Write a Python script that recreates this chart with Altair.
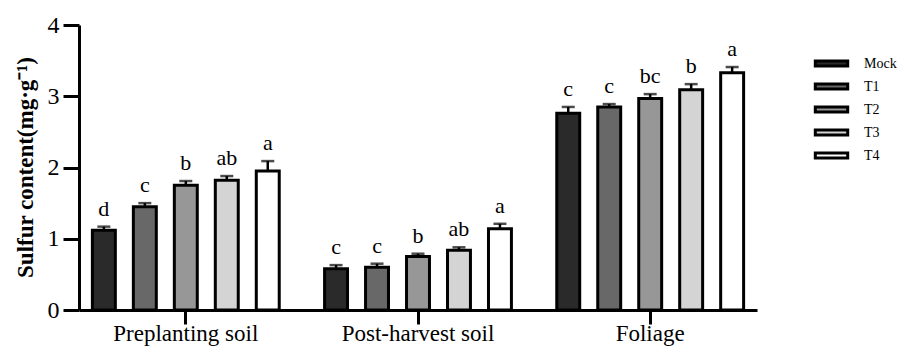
import altair as alt
import pandas as pd

groups = ["Preplanting soil", "Post-harvest soil", "Foliage"]
treatments = ["Mock", "T1", "T2", "T3", "T4"]
colors = ["#2a2a2a", "#686868", "#979797", "#d4d4d4", "#ffffff"]

pre_mean = [1.12, 1.45, 1.75, 1.82, 1.95]
pre_err = [0.05, 0.05, 0.06, 0.06, 0.14]
pre_sig = ["d", "c", "b", "ab", "a"]

post_mean = [0.58, 0.60, 0.75, 0.84, 1.14]
post_err = [0.05, 0.05, 0.04, 0.04, 0.07]
post_sig = ["c", "c", "b", "ab", "a"]

fol_mean = [2.76, 2.85, 2.97, 3.09, 3.33]
fol_err = [0.09, 0.04, 0.06, 0.08, 0.08]
fol_sig = ["c", "c", "bc", "b", "a"]

rows = []
for g, means, errs, sigs in zip(groups, [pre_mean, post_mean, fol_mean],
                                [pre_err, post_err, fol_err],
                                [pre_sig, post_sig, fol_sig]):
    for t, m, e, s in zip(treatments, means, errs, sigs):
        rows.append({"group": g, "treatment": t, "mean": m, "top": m + e, "sig": s})
df = pd.DataFrame(rows)

FONT = "'Liberation Serif', 'Times New Roman', serif"
YTITLE = "Sulfur content(mg·g⁻¹)"

x_enc = alt.X("group:N", sort=groups, title=None,
              scale=alt.Scale(paddingInner=0.1, paddingOuter=0.01),
              axis=alt.Axis(labelAngle=0, labelFont=FONT, labelFontSize=23,
                            labelColor="black", labelBaseline="alphabetic",
                            labelPadding=16,
                            domainColor="black", domainWidth=3,
                            tickColor="black", tickWidth=3, tickSize=14,
                            zindex=2))
xo_enc = alt.XOffset("treatment:N", sort=treatments,
                     scale=alt.Scale(paddingInner=0.44, paddingOuter=0.27))
yscale = alt.Scale(domain=[0, 4], nice=False)


def yaxis():
    return alt.Axis(values=[0, 1, 2, 3, 4], format="d", grid=False,
                    labelFont=FONT, labelFontSize=24, labelColor="black", labelPadding=4,
                    domainColor="black", domainWidth=3,
                    tickColor="black", tickWidth=3, tickSize=16,
                    titleFont=FONT, titleFontSize=23, titleFontWeight="bold",
                    titleColor="black", titleX=-42, titleY=142, zindex=2)


base = alt.Chart(df).encode(x=x_enc, xOffset=xo_enc)

bars = base.mark_bar(stroke="black", strokeWidth=3, strokeJoin="miter").encode(
    y=alt.Y("mean:Q", scale=yscale, axis=yaxis(), title=YTITLE),
    color=alt.Color("treatment:N", sort=treatments,
                    scale=alt.Scale(domain=treatments, range=colors),
                    legend=alt.Legend(title=None, orient="none", legendX=742, legendY=28,
                                      symbolType="M-1.8,-0.28L1.8,-0.28L1.8,0.28L-1.8,0.28Z",
                                      symbolSize=324, symbolStrokeColor="black",
                                      symbolStrokeWidth=3, labelFont=FONT,
                                      labelFontSize=14, labelColor="black",
                                      labelFontWeight="normal",
                                      labelOffset=22, rowPadding=3, padding=0)),
)

rules = base.mark_rule(color="black", strokeWidth=2.5).encode(
    y=alt.Y("mean:Q", scale=yscale, axis=yaxis(), title=YTITLE), y2="top:Q")

caps = base.mark_tick(color="black", size=13, thickness=2.5).encode(
    y=alt.Y("top:Q", scale=yscale, axis=yaxis(), title=YTITLE))

letters = base.mark_text(baseline="bottom", dy=-6, font=FONT, fontSize=22, color="black").encode(
    y=alt.Y("top:Q", scale=yscale, axis=yaxis(), title=YTITLE), text="sig:N")

chart = alt.layer(rules, caps, bars, letters).properties(
    width=678, height=285,
    autosize=alt.AutoSizeParams(type="none"),
    padding={"left": 71, "top": 17, "right": 140, "bottom": 38},
).configure_view(stroke=None).configure_legend(
    labelFont=FONT, labelFontSize=14, labelColor="black"
).configure_axis(labelFont=FONT, titleFont=FONT)

chart.save("out.html", embed_options={"renderer": "svg", "actions": False})
